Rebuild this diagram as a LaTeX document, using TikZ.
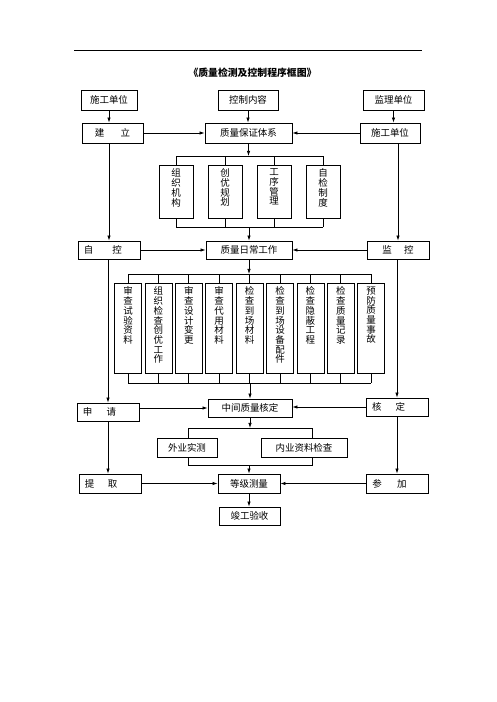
\documentclass[tikz,border=0pt]{standalone}
\usepackage{fontspec}
\setmainfont{Noto Sans CJK SC}
\usetikzlibrary{positioning, arrows.meta, calc}

\begin{document}
\begin{tikzpicture}[x=0.025cm, y=-0.025cm, line width=0.5pt, font=\fontsize{6.75}{6.9}\selectfont]
	\tikzstyle{box} = [draw, inner sep=0pt, minimum height=0.5cm];
	\tikzstyle{sbox} = [draw, align=left, inner xsep=0.15cm, inner ysep=0pt, text width=1.25cm, minimum height=0.45cm];
	\tikzstyle{vtext} = [align=center, inner sep=0pt, anchor=north, yshift=-2.8pt];
	\tikzstyle{arr} = [-{Latex[length=3.6pt, width=2.4pt]}];
	
	\useasboundingbox (0,0) rectangle (496,702);
	\draw (74,50) -- (422,50);
	\node[font=\fontsize{7}{8}\selectfont\bfseries] (title) at (252.5,73) {《质量检测及控制程序框图》};
	
	% first rows
	\node[box, minimum width=1.4cm] (sg1) at (109,100) {施工单位};
	\node[box, minimum width=1.5cm] (nr) at (248,100) {控制内容};
	\node[box, minimum width=1.525cm] (jl) at (393.5,100) {监理单位};
	
	\node[box, minimum width=1.525cm] (jianli) at (112.5,133) {建\hspace{1.7em}立};
	\node[box, minimum width=2.175cm] (bz) at (248.5,133) {质量保证体系};
	\node[box, minimum width=1.5cm] (sg2) at (390,133) {施工单位};
	
	\foreach \t [count=\i] in {{组\\织\\机\\构},{创\\优\\规\\划},{工\\序\\管\\理},{自\\检\\制\\度}}
	{
		\node[box, minimum width=0.85cm, minimum height=1.325cm] (g\i) at ({176+49*(\i-1)},191.5) {};
		\node[vtext] (g\i t) at (g\i.north) {\t};
	}
	
	\node[sbox] (zk) at (109,250) {自\hspace{2em}控};
	\node[box, minimum width=2.15cm, minimum height=0.45cm] (rc) at (249,250) {质量日常工作};
	\node[box, minimum width=1.55cm, minimum height=0.45cm] (jk) at (398,250) {监\hspace{1.3em}控};
	
	\foreach \t [count=\i] in {{审\\查\\试\\验\\资\\料},{组\\织\\检\\查\\创\\优\\工\\作},{审\\查\\设\\计\\变\\更},
		{审\\查\\代\\用\\材\\料},{检\\查\\到\\场\\材\\料},{检\\查\\到\\场\\设\\备\\配\\件},
		{检\\查\\隐\\蔽\\工\\程},{检\\查\\质\\量\\记\\录},{预\\防\\质\\量\\事\\故}}
	{
		\node[box, minimum width=0.675cm, minimum height=2.25cm] (h\i) at ({128+30.4*(\i-1)},328) {};
		\node[vtext] (h\i t) at (h\i.north) {\t};
	}
	
	% lower rows
	\node[sbox] (sq) at (108,412) {申\hspace{1.5em}请};
	\node[box, minimum width=2.1cm, minimum height=0.45cm] (zj) at (250,408) {中间质量核定};
	\node[sbox] (hd) at (397,407) {核\hspace{1.5em}定};
	
	\node[box, minimum width=1.5cm, minimum height=0.475cm] (ww) at (187,447.5) {外业实测};
	\node[box, minimum width=2.15cm, minimum height=0.475cm] (nw) at (304,447.5) {内业资料检查};
	
	\node[sbox, minimum height=0.475cm] (tq) at (110,483.5) {提\hspace{1.4em}取};
	\node[box, minimum width=1.55cm, minimum height=0.475cm] (dj) at (249,483.5) {等级测量};
	\node[sbox, minimum height=0.475cm] (cj) at (397.5,483.5) {参\hspace{1.6em}加};
	
	\node[box, minimum width=1.525cm, minimum height=0.45cm] (jg) at (249.5,516) {竣工验收};
	
	% connectors
	\draw[arr] (sg1.south) -- (sg1.south |- jianli.north);
	\draw[arr] (nr.south) -- (nr.south |- bz.north);
	\draw[arr] (jl.south) -- (jl.south |- sg2.north);
	\draw[arr] (jianli.east) -- (bz.west);
	\draw[arr] (sg2.west) -- (bz.east);
	
	\coordinate (f1) at (249,156);
	\coordinate (j1) at (249,227);
	\draw[arr] (bz.south) -- (bz.south |- f1);
	\draw (g1.north |- f1) -- (g4.north |- f1);
	\draw (g1.south |- j1) -- (g4.south |- j1);
	\foreach \i in {1,...,4}
	{
		\draw (g\i.north) -- (g\i.north |- f1);
		\draw (g\i.south) -- (g\i.south |- j1);
	}
	\draw[arr] (rc.north |- j1) -- (rc.north);
	
	\draw[arr] (jianli.south -| zk.north) -- (zk.north);
	\draw[arr] (sg2.south -| jk.north) -- (jk.north);
	\draw[arr] (zk.east) -- (rc.west);
	\draw[arr] (jk.west) -- (rc.east);
	
	\coordinate (f2) at (249,274);
	\coordinate (j2) at (249,383);
	\draw[arr] (rc.south) -- (rc.south |- f2);
	\draw (h1.north |- f2) -- (h9.north |- f2);
	\draw (h1.south |- j2) -- (h9.south |- j2);
	\foreach \i in {1,...,9}
	{
		\draw (h\i.north) -- (h\i.north |- f2);
		\draw (h\i.south) -- (h\i.south |- j2);
	}
	\draw[arr] (zj.north |- j2) -- (zj.north);
	
	\draw[arr] (zk.south -| sq.north) -- (sq.north);
	\draw[arr] (jk.south -| hd.north) -- (hd.north);
	\draw[arr] (sq.east |- zj.west) -- (zj.west);
	\draw[arr] (hd.west) -- (hd.west -| zj.east);
	
	\coordinate (f3l) at (188,428);
	\coordinate (f3r) at (312,428);
	\coordinate (j3l) at (188,465);
	\coordinate (j3r) at (312,465);
	\draw[arr] (zj.south) -- (zj.south |- f3l);
	\draw (ww.north -| f3l) -- (f3l) -- (f3r) -- (nw.north -| f3r);
	\draw (ww.south -| j3l) -- (j3l) -- (j3r) -- (nw.south -| j3r);
	\draw[arr] (dj.north |- j3l) -- (dj.north);
	
	\draw[arr] (sq.south) -- (sq.south |- tq.north);
	\draw[arr] (hd.south) -- (hd.south |- cj.north);
	\draw[arr] (tq.east) -- (dj.west);
	\draw[arr] (cj.west) -- (dj.east);
	\draw[arr] (dj.south) -- (dj.south |- jg.north);
	
\end{tikzpicture}
\end{document}
